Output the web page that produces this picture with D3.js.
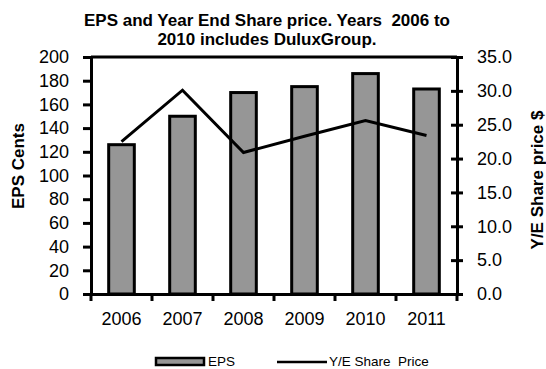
<!DOCTYPE html>
<html><head><meta charset="utf-8">
<script src="https://cdn.jsdelivr.net/npm/d3@7"></script>
<style>
body{margin:0;background:#fff;}
text{font-family:"Liberation Sans",Arial,sans-serif;fill:#000;}
</style></head>
<body><svg id="c" width="546" height="369"></svg>
<script>
const years = ["2006","2007","2008","2009","2010","2011"];
const eps = [126, 150, 170, 175, 186, 173];
const price = [22.5, 30.1, 20.9, 23.3, 25.6, 23.4];
const epsTicks = [0,20,40,60,80,100,120,140,160,180,200];
const priceTicks = [0,5,10,15,20,25,30,35];
const titleLines = ["EPS and Year End Share price. Years  2006 to","2010 includes DuluxGroup."];

const svg = d3.select("#c");
const L=91, R=457, T=57, B=294;
const x = d3.scaleBand().domain(years).range([L,R]).paddingInner(0.58).paddingOuter(0.29);
const xb = d3.scaleBand().domain(years).range([L,R]);
const y = d3.scaleLinear().domain([0,200]).range([B,T]);
const y2 = d3.scaleLinear().domain([0,35]).range([B,T]);

// frame top
svg.append("line").attr("x1",L).attr("x2",R).attr("y1",T).attr("y2",T).attr("stroke","#000").attr("stroke-width",3);

// bars
svg.selectAll("rect.bar").data(years).enter().append("rect")
 .attr("x",d=>x(d)).attr("width",x.bandwidth())
 .attr("y",(d,i)=>y(eps[i])).attr("height",(d,i)=>B-y(eps[i]))
 .attr("fill","#969696").attr("stroke","#000").attr("stroke-width",3);

// line
svg.append("path").datum(price)
 .attr("d",d3.line().x((d,i)=>xb(years[i])+xb.bandwidth()/2).y(d=>y2(d)))
 .attr("fill","none").attr("stroke","#000").attr("stroke-width",3);

// left axis
const la = svg.append("g").attr("transform",`translate(${L},0)`)
 .call(d3.axisLeft(y).tickValues(epsTicks).tickSize(8).tickSizeOuter(0).tickPadding(14));
la.selectAll("text").style("font-size","18px");
// right axis
const ra = svg.append("g").attr("transform",`translate(${R},0)`)
 .call(d3.axisRight(y2).tickValues(priceTicks).tickSize(6).tickSizeOuter(0).tickPadding(14).tickFormat(d3.format(".1f")));
ra.selectAll("text").style("font-size","18px");
ra.selectAll(".tick line").attr("x1",-6);
// bottom axis
const ba = svg.append("g").attr("transform",`translate(0,${B})`)
 .call(d3.axisBottom(xb).tickSize(0).tickPadding(18));
ba.selectAll("text").style("font-size","18px");
ba.selectAll(".tick line").remove();
ba.selectAll("line.bt").data(years.concat(["end"])).enter().append("line")
 .attr("x1",(d,i)=>L+i*xb.bandwidth()).attr("x2",(d,i)=>L+i*xb.bandwidth())
 .attr("y1",0).attr("y2",7).attr("stroke","#000").attr("stroke-width",3);

svg.selectAll(".domain").attr("stroke","#000").attr("stroke-width",3);
svg.selectAll(".tick line").attr("stroke","#000").attr("stroke-width",3);

// titles
svg.selectAll("text.title").data(titleLines).enter().append("text")
 .attr("x",267).attr("y",(d,i)=>26+i*19).attr("text-anchor","middle")
 .style("font-size","17px").style("font-weight","bold")
 .style("white-space","pre").text(d=>d);

svg.append("text").attr("transform","translate(24,166) rotate(-90)").attr("text-anchor","middle")
 .style("font-size","17px").style("font-weight","bold").text("EPS Cents");
svg.append("text").attr("transform","translate(543,180) rotate(-90)").attr("text-anchor","middle")
 .style("font-size","17px").style("font-weight","bold").text("Y/E Share price $");

// legend
svg.append("rect").attr("x",156).attr("y",358).attr("width",48).attr("height",7)
 .attr("fill","#969696").attr("stroke","#000").attr("stroke-width",2.5);
svg.append("text").attr("x",208).attr("y",366).style("font-size","13.5px").text("EPS");
svg.append("line").attr("x1",277).attr("x2",327).attr("y1",362).attr("y2",362).attr("stroke","#000").attr("stroke-width",2.5);
svg.append("text").attr("x",329).attr("y",366).style("font-size","13.5px").style("white-space","pre").text("Y/E Share  Price");
</script></body></html>
